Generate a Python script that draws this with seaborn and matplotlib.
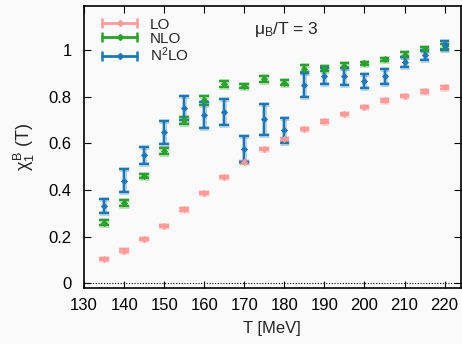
import matplotlib
matplotlib.use("Agg")
import matplotlib.pyplot as plt
import matplotlib.patheffects as pe
from matplotlib.lines import Line2D
from matplotlib.legend_handler import HandlerLine2D, HandlerTuple
import seaborn as sns
import pandas as pd

# temperatures [MeV]
T = [135, 140, 145, 150, 155, 160, 165, 170, 175, 180,
     185, 190, 195, 200, 205, 210, 215, 220]

lo = [0.103, 0.140, 0.189, 0.246, 0.317, 0.387, 0.456, 0.520, 0.577, 0.617,
      0.663, 0.694, 0.727, 0.757, 0.784, 0.803, 0.823, 0.840]
lo_err = [0.005] * 18

nlo = [0.260, 0.345, 0.460, 0.567, 0.700, 0.785, 0.854, 0.846, 0.877, 0.861,
       0.921, 0.921, 0.934, 0.944, 0.961, 0.981, 1.005, 1.017]
nlo_err = [0.010, 0.012, 0.010, 0.012, 0.015, 0.020, 0.012, 0.010, 0.012, 0.010,
           0.015, 0.010, 0.012, 0.007, 0.007, 0.010, 0.010, 0.010]

n2lo = [0.331, 0.440, 0.549, 0.647, 0.752, 0.721, 0.735, 0.577, 0.703, 0.657,
        0.850, 0.889, 0.887, 0.868, 0.887, 0.948, 0.979, 1.021]
n2lo_err = [0.031, 0.050, 0.037, 0.049, 0.050, 0.057, 0.055, 0.055, 0.067, 0.054,
            0.051, 0.033, 0.037, 0.031, 0.033, 0.021, 0.020, 0.020]

labels = ["LO", "NLO", r"N$^2$LO"]
colors = ["#ff9a9a", "#2ca02c", "#1f77b4"]

sns.set_theme(style="ticks")
plt.rcParams["font.family"] = ["Liberation Sans", "DejaVu Sans"]
plt.rcParams["mathtext.fontset"] = "custom"
plt.rcParams["mathtext.rm"] = "Liberation Sans"
plt.rcParams["mathtext.it"] = "Liberation Sans"

fig = plt.figure(figsize=(4.62, 3.44), dpi=100, facecolor="#fafafa")
ax = fig.add_axes([0.182, 0.163, 0.815, 0.82])
ax.set_facecolor("#fafafa")

ax.axhline(0, color="black", lw=0.8, ls=(0, (1, 1.5)))

handles = []
for vals, errs, col, lab in zip([lo, nlo, n2lo], [lo_err, nlo_err, n2lo_err], colors, labels):
    df = pd.DataFrame({"T": T, "v": vals})
    eb = ax.errorbar(T, vals, yerr=errs, fmt="none", ecolor=col, elinewidth=1.6,
                     capsize=3.5, capthick=1.6, zorder=3)
    for art in eb.lines[2] + tuple(eb.lines[1]):
        art.set_path_effects([pe.Stroke(linewidth=3.5, foreground=col, alpha=0.3), pe.Normal()])
    sns.scatterplot(data=df, x="T", y="v", ax=ax, color=col, marker="D", s=10,
                    edgecolor=col, linewidth=0.5, zorder=4, legend=False)
    bar = Line2D([], [], color=col, lw=2.0, marker="|", ms=7, mew=1.8)
    dot = Line2D([], [], color=col, ls="none", marker="D", ms=3)
    handles.append((bar, dot))

hmap = {}
for bar, dot in handles:
    hmap[bar] = HandlerLine2D(numpoints=2)
    hmap[dot] = HandlerLine2D(numpoints=1)
hmap[tuple] = HandlerTuple(ndivide=1, pad=0)
leg = ax.legend(handles, labels, loc="upper left", frameon=False,
                handler_map=hmap, handlelength=2.9, fontsize=11,
                borderaxespad=0.0, labelspacing=0.0, handletextpad=0.5,
                bbox_to_anchor=(0.02, 0.98))

ax.text(0.452, 0.915, r"$\mu_B$/T = 3", transform=ax.transAxes, fontsize=12.5, va="center")

ax.set_xlim(130, 224)
ax.set_ylim(-0.02, 1.19)
ax.set_xticks(range(130, 221, 10))
ax.set_yticks([0, 0.2, 0.4, 0.6, 0.8, 1])
ax.set_yticklabels(["0", "0.2", "0.4", "0.6", "0.8", "1"])
ax.tick_params(direction="in", top=True, right=True, length=5, width=0.8,
               labelsize=12, colors="black")
ax.tick_params(axis="x", pad=7)
ax.tick_params(axis="y", pad=9)
for s in ax.spines.values():
    s.set_linewidth(1.2)
    s.set_color("black")

ax.set_xlabel("T [MeV]", fontsize=12, labelpad=6)
ax.set_ylabel(r"$\chi_1^B$ (T)", fontsize=13, labelpad=8)

fig.savefig("out.png", dpi=100, facecolor=fig.get_facecolor())
